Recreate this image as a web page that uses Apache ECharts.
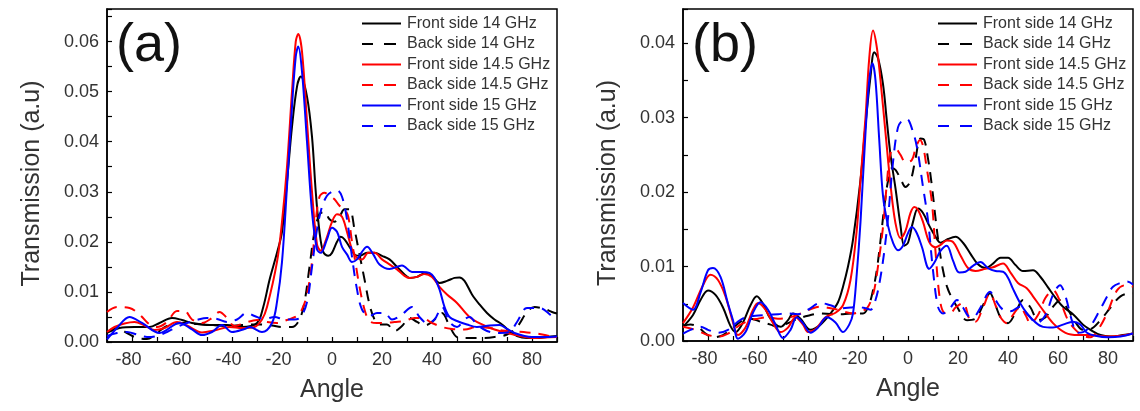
<!DOCTYPE html>
<html>
<head>
<meta charset="utf-8">
<script src="https://cdn.jsdelivr.net/npm/echarts@6/dist/echarts.min.js"></script>
<style>
html,body{margin:0;padding:0;background:#fff;}
#chart{width:1140px;height:411px;}
</style>
</head>
<body>
<div id="chart"></div>
<script>
// ---------- Data (angle in degrees, transmission in a.u.) ----------
const seriesNames = ['Front side 14 GHz','Back side 14 GHz','Front side 14.5 GHz','Back side 14.5 GHz','Front side 15 GHz','Back side 15 GHz'];
const panelLabels = ['(a)','(b)'];
const xTickLabels = [-80,-60,-40,-20,0,20,40,60,80];

// Panel (a)
const a_front14 = [[-90,0.0018],[-85,0.0028],[-79,0.003],[-73,0.003],[-69,0.0038],[-64,0.0048],[-60,0.0044],[-56,0.0038],[-49,0.0034],[-42,0.0034],[-36,0.003],[-30,0.0038],[-27.5,0.007],[-25,0.0124],[-22,0.0178],[-20,0.022],[-18,0.032],[-16,0.043],[-14,0.051],[-12.5,0.053],[-10,0.049],[-8,0.041],[-6.5,0.030],[-5,0.022],[-3.5,0.018],[-1.5,0.0172],[0,0.0178],[2,0.02],[3.5,0.021],[5,0.0205],[7,0.019],[9,0.0175],[11,0.0172],[14,0.0178],[17,0.0178],[20,0.0172],[23,0.0165],[26,0.015],[29,0.0135],[31,0.0128],[34,0.013],[37,0.0137],[40,0.0132],[43,0.0118],[46,0.0122],[49,0.0128],[51,0.0129],[53,0.0122],[56,0.0095],[59,0.0075],[62,0.0058],[65,0.0045],[68,0.0035],[71,0.0022],[74,0.0012],[78,0.0008],[82,0.0008],[86,0.001],[90,0.0012]];
const a_back14 = [[-90,0.002],[-86,0.0028],[-82,0.0018],[-78,0.0008],[-74,0.0006],[-70,0.0018],[-66,0.0032],[-60,0.0038],[-54,0.0036],[-48,0.0034],[-42,0.0032],[-36,0.0034],[-30,0.0035],[-24,0.0033],[-20,0.003],[-16,0.003],[-13,0.0045],[-11,0.008],[-9,0.015],[-7,0.022],[-5,0.0255],[-3,0.026],[-1,0.0245],[1,0.024],[3,0.025],[5,0.0265],[7,0.0265],[9,0.0225],[11,0.0175],[13,0.0125],[15,0.0075],[17,0.0045],[19,0.0035],[22,0.0035],[25,0.0022],[28,0.0032],[31,0.0048],[34,0.004],[37,0.0033],[40,0.004],[44,0.0058],[47,0.0032],[50,0.001],[54,0.0008],[60,0.0008],[65,0.001],[70,0.0015],[74,0.003],[78,0.006],[81,0.007],[85,0.0066],[88,0.006],[90,0.0057]];
const a_front145 = [[-90,0.002],[-87,0.003],[-83,0.0037],[-79,0.004],[-75,0.0033],[-71,0.0024],[-67,0.0028],[-62,0.004],[-58,0.0033],[-52,0.0019],[-47,0.0023],[-41,0.003],[-36,0.0028],[-31,0.003],[-28,0.0045],[-26,0.007],[-22,0.016],[-20,0.024],[-18,0.035],[-16,0.05],[-14.5,0.06],[-13.5,0.0615],[-12,0.058],[-10,0.044],[-8,0.03],[-6,0.0195],[-4.5,0.0182],[-2,0.021],[0,0.024],[2,0.0255],[4,0.025],[6,0.022],[8,0.0185],[10,0.0168],[12,0.0165],[14.5,0.0178],[17,0.0178],[20,0.0165],[23,0.0155],[26,0.0145],[29,0.0132],[31,0.0128],[34,0.013],[37,0.0136],[40,0.013],[43,0.011],[46,0.0095],[50,0.0078],[55,0.005],[60,0.0035],[65,0.0025],[70,0.0018],[75,0.0012],[80,0.0008],[85,0.0009],[90,0.001]];
const a_back145 = [[-90,0.006],[-86,0.007],[-81,0.0068],[-77,0.0055],[-73,0.0035],[-70,0.003],[-66,0.004],[-62,0.0062],[-59,0.0062],[-56,0.0045],[-52,0.0038],[-48,0.0048],[-45,0.006],[-42,0.0048],[-39,0.0032],[-35,0.0038],[-30,0.0044],[-26,0.004],[-22,0.0038],[-18,0.0044],[-14,0.0052],[-12,0.0065],[-10,0.0095],[-8,0.016],[-6.5,0.024],[-5,0.029],[-3,0.0298],[-1,0.0292],[1,0.0285],[3,0.0272],[5,0.0265],[6.5,0.025],[8,0.02],[9.5,0.0155],[11,0.011],[13,0.0065],[15,0.0042],[18,0.0038],[21,0.0038],[25,0.004],[29,0.0042],[33,0.0048],[36,0.0048],[40,0.0038],[44,0.003],[48,0.0026],[53,0.0025],[58,0.003],[63,0.0028],[68,0.0023],[73,0.0021],[78,0.0019],[83,0.0016],[88,0.0011],[90,0.001]];
const a_front15 = [[-90,0.0005],[-86,0.0028],[-81,0.005],[-76,0.0038],[-69,0.0018],[-61,0.0038],[-56,0.0025],[-52,0.0014],[-48,0.002],[-44,0.0034],[-40,0.002],[-35,0.0026],[-33,0.003],[-28,0.002],[-24,0.0038],[-22,0.008],[-20,0.016],[-18,0.031],[-16,0.047],[-14.5,0.057],[-13.5,0.059],[-12,0.054],[-10,0.04],[-8,0.026],[-6,0.0185],[-4.5,0.0178],[-2,0.0205],[0,0.0228],[2,0.022],[4,0.019],[6,0.0175],[8,0.016],[10,0.0165],[12,0.018],[14,0.019],[16.5,0.0175],[19,0.0155],[23,0.0146],[28,0.0153],[32,0.014],[36,0.014],[39,0.0138],[41,0.0128],[43,0.0105],[45,0.007],[47,0.005],[50,0.0042],[54,0.0035],[58,0.003],[63,0.0033],[67,0.0034],[70,0.0026],[73,0.0018],[77,0.0012],[80,0.001],[85,0.001],[90,0.0011]];
const a_back15 = [[-90,0.0012],[-86,0.0018],[-82,0.002],[-78,0.0015],[-74,0.001],[-70,0.0012],[-66,0.002],[-62,0.003],[-58,0.0038],[-54,0.0044],[-50,0.0048],[-46,0.0046],[-42,0.004],[-38,0.0045],[-34,0.0058],[-31,0.0052],[-27,0.0046],[-23,0.005],[-19,0.0045],[-15,0.0045],[-12.5,0.005],[-10,0.008],[-8,0.015],[-6,0.0225],[-4,0.027],[-2,0.0292],[0,0.03],[2,0.0303],[4,0.029],[6,0.0245],[8,0.017],[10,0.0105],[12,0.0065],[15,0.0052],[18,0.0058],[21,0.0058],[24,0.0045],[28,0.0055],[32,0.007],[35,0.005],[38,0.0038],[41,0.0045],[44,0.007],[47,0.004],[50,0.003],[53,0.0045],[55,0.005],[58,0.0035],[62,0.0022],[67,0.0018],[71,0.002],[74,0.004],[78,0.0068],[83,0.0068],[88,0.0052],[90,0.0048]];

// Panel (b)
const b_front14 = [[-90,0.0019],[-86,0.0035],[-83,0.0055],[-80,0.0068],[-77,0.0062],[-74,0.0045],[-71,0.002],[-69,0.0012],[-66,0.0025],[-63,0.0048],[-60.5,0.006],[-58,0.005],[-55,0.003],[-51,0.0019],[-48,0.0028],[-46,0.0037],[-43,0.003],[-39,0.0015],[-35,0.0022],[-31,0.0037],[-28,0.0052],[-26,0.0073],[-24,0.01],[-22,0.0136],[-19,0.0216],[-17,0.029],[-15,0.0355],[-13.5,0.0388],[-12,0.038],[-10,0.0345],[-8.5,0.0297],[-7,0.025],[-5,0.0205],[-3,0.0155],[-1.5,0.0128],[0,0.0132],[2,0.016],[4,0.0178],[6,0.0172],[8.5,0.0155],[11,0.014],[13,0.0132],[16,0.0137],[19,0.014],[22,0.0132],[25,0.0117],[28,0.0103],[31,0.0098],[34,0.0104],[37,0.0112],[40,0.0112],[43,0.0102],[46,0.0094],[50,0.0095],[53,0.0086],[56,0.0072],[59,0.0058],[62,0.0046],[66,0.0036],[70,0.0022],[73,0.0015],[77,0.0008],[81,0.0006],[86,0.0008],[90,0.001]];
const b_back14 = [[-90,0.002],[-87,0.0022],[-84,0.0019],[-81,0.001],[-78,0.0005],[-74,0.0008],[-70,0.0018],[-66,0.0028],[-63,0.003],[-59,0.0026],[-55,0.0022],[-52,0.0019],[-48,0.0024],[-44,0.003],[-40,0.0034],[-35,0.0037],[-30,0.0036],[-26,0.0036],[-22,0.0037],[-18,0.0037],[-15.5,0.005],[-14,0.0068],[-12.5,0.0095],[-11,0.0135],[-9.5,0.018],[-8,0.0215],[-6.5,0.0232],[-5,0.023],[-3,0.0218],[-1,0.0207],[1,0.0215],[3,0.0245],[5,0.0272],[6.5,0.027],[8,0.0245],[9.5,0.021],[11,0.0165],[12.5,0.0125],[14,0.0095],[15.6,0.0073],[17.5,0.0058],[19.6,0.0046],[23.6,0.0028],[27,0.003],[30,0.0048],[32.8,0.0064],[35,0.0048],[37,0.0032],[40,0.0024],[43,0.0038],[46,0.0055],[49,0.0045],[52,0.0028],[55,0.0032],[58,0.0046],[61,0.0055],[64,0.0042],[67,0.0025],[70,0.0015],[73,0.0016],[77,0.0028],[81,0.0045],[85,0.006],[89,0.0064],[90,0.0064]];
const b_front145 = [[-90,0.0024],[-86,0.0045],[-82,0.0075],[-79,0.0089],[-76,0.0082],[-73,0.006],[-70,0.0025],[-68,0.0008],[-65,0.0018],[-62,0.0042],[-60,0.0051],[-57,0.0042],[-54,0.0024],[-51,0.0012],[-48,0.0018],[-45,0.0032],[-42,0.0022],[-40,0.0012],[-37,0.0016],[-33,0.0032],[-29,0.0038],[-26,0.0048],[-23,0.0082],[-20.5,0.0149],[-19,0.0216],[-17,0.03],[-15.5,0.038],[-14,0.0417],[-12.5,0.0395],[-11,0.035],[-9,0.028],[-7,0.021],[-5,0.0158],[-3,0.0138],[-1,0.0148],[1,0.0172],[2.5,0.018],[4,0.0176],[6,0.016],[8.5,0.0133],[11,0.0126],[13,0.0129],[15.5,0.0135],[18,0.0133],[21,0.0115],[24,0.0098],[27,0.0094],[31,0.0097],[34,0.0099],[38,0.0104],[41,0.0092],[44,0.0078],[47.5,0.0071],[50,0.006],[53,0.0046],[58,0.0024],[63,0.0011],[68,0.0008],[72,0.0008],[80,0.0006],[85,0.0007],[90,0.001]];
const b_back145 = [[-90,0.0019],[-86,0.0016],[-83,0.0012],[-80,0.0008],[-76,0.0006],[-72,0.001],[-67,0.0022],[-63,0.0028],[-60,0.003],[-56,0.0032],[-52,0.003],[-47,0.0032],[-42,0.0038],[-38,0.0044],[-35,0.0046],[-31,0.0044],[-28,0.0042],[-25,0.0039],[-22,0.0037],[-19,0.004],[-16.4,0.0044],[-14,0.0062],[-12.4,0.0091],[-10,0.0153],[-8.5,0.021],[-7,0.0252],[-5,0.0258],[-3,0.025],[-1,0.024],[1.5,0.0243],[3,0.0258],[4.8,0.027],[6,0.0262],[7.6,0.023],[9.6,0.0185],[11,0.012],[12.8,0.0055],[14.5,0.0038],[16.8,0.0037],[19,0.0045],[22,0.0051],[24.8,0.0028],[27,0.0026],[30,0.0045],[32.8,0.0064],[35,0.0048],[37,0.0032],[39.6,0.0024],[42,0.0035],[44.8,0.0046],[47,0.0035],[49,0.0024],[52,0.0035],[55,0.0058],[58,0.0068],[61,0.0052],[64,0.0028],[67,0.0015],[70,0.0007],[73,0.0005],[76,0.0015],[79.6,0.0037],[83.6,0.0068],[87,0.0075],[90,0.0073]];
const b_front15 = [[-90,0.0051],[-86,0.0042],[-83,0.0065],[-80,0.0095],[-78,0.0098],[-75,0.0086],[-72,0.005],[-70,0.0028],[-68,0.0003],[-65,0.0012],[-62,0.0038],[-59,0.0052],[-56,0.0042],[-53,0.0022],[-50,0.0004],[-47,0.0015],[-44.5,0.0032],[-42,0.0024],[-39,0.0011],[-36,0.0018],[-32.5,0.0032],[-29,0.0025],[-26,0.0012],[-23.5,0.0022],[-22,0.0037],[-20.5,0.009],[-19,0.016],[-17,0.028],[-15.5,0.035],[-14.2,0.0373],[-13,0.035],[-11.5,0.027],[-10,0.0195],[-8,0.0155],[-6,0.0132],[-4,0.0122],[-2,0.0128],[0,0.0145],[1.6,0.0153],[3.5,0.0145],[5.6,0.0126],[8.5,0.0097],[10.5,0.0105],[13,0.0121],[15.5,0.0128],[18,0.0108],[20.5,0.0092],[23,0.0093],[26,0.0101],[29,0.0106],[32,0.0098],[35,0.0094],[38,0.0093],[40,0.0085],[42,0.007],[45,0.005],[47.6,0.0037],[51,0.0025],[54,0.0019],[58,0.0018],[62,0.0022],[66,0.0026],[69,0.0022],[71.6,0.0011],[75,0.0007],[80,0.0005],[85,0.0006],[90,0.001]];
const b_back15 = [[-90,0.001],[-87,0.0015],[-83,0.0019],[-80,0.0015],[-76,0.0011],[-72,0.0015],[-68,0.0026],[-65,0.0032],[-61,0.0034],[-56,0.0035],[-52,0.0036],[-48.4,0.0037],[-44,0.0036],[-40,0.0042],[-35,0.0051],[-31,0.0048],[-27,0.0044],[-23,0.0045],[-20.4,0.0046],[-17,0.0044],[-15,0.0042],[-13,0.0055],[-11.2,0.0082],[-9.5,0.012],[-8,0.0165],[-6,0.024],[-4,0.0287],[-2,0.0297],[-0.4,0.0298],[1.6,0.0285],[3.6,0.026],[6,0.0207],[8,0.0162],[10,0.0095],[12,0.0046],[14,0.0037],[17,0.0045],[19.6,0.0055],[22,0.0045],[24,0.0034],[26,0.0032],[29,0.0045],[32.8,0.0066],[35,0.0055],[38,0.0042],[41,0.004],[44.8,0.0046],[48,0.0035],[51.6,0.0024],[55,0.0035],[58,0.0062],[60.8,0.0075],[63,0.006],[65.5,0.0028],[67.6,0.0011],[70,0.0012],[73,0.002],[76.8,0.0042],[80,0.0062],[82,0.0073],[85,0.0078],[87.6,0.008],[90,0.0076]];

const panelData = [
  [a_front14, a_back14, a_front145, a_back145, a_front15, a_back15],
  [b_front14, b_back14, b_front145, b_back145, b_front15, b_back15]
];
const yMax = [0.0665, 0.0446];

// ---------- Styling ----------
const colors = ['#000000','#000000','#ff0000','#ff0000','#0000ff','#0000ff'];
const dashed = [false,true,false,true,false,true];
const FONT = 'Liberation Sans, Arial, sans-serif';
const TXT = '#333333';
const grids = [
  {left:107, top:9, width:450, height:333},
  {left:683, top:9, width:450, height:332}
];
const legendPos = [{left:362, top:15.5},{left:938, top:15.5}];
const labelPos = [{left:116, top:19},{left:692, top:19}];
const ICON_SOLID = 'path://M0,0H39V2H0Z M40,0V2';
const ICON_DASH = 'path://M0,0H11V2H0Z M22,0H34V2H22Z M40,0V2';

const chart = echarts.init(document.getElementById('chart'), null, {renderer:'canvas'});

const tickLabelStyle = {fontFamily:FONT, fontSize:18, color:TXT};

const option = {
  animation:false,
  backgroundColor:'#ffffff',
  title: panelLabels.map((t,i)=>({
    text:t, left:labelPos[i].left, top:labelPos[i].top, padding:0,
    textStyle:{fontFamily:FONT, fontSize:54, fontWeight:'normal', color:'#111'}
  })),
  grid: grids.map(g=>Object.assign({show:true, borderColor:'#000', borderWidth:1.5, backgroundColor:'transparent', containLabel:false}, g)),
  legend: [0,1].map(i=>({
    orient:'vertical', left:legendPos[i].left, top:legendPos[i].top, padding:0,
    itemWidth:40, itemHeight:2, itemGap:4.5, symbolKeepAspect:false,
    data: seriesNames.map((n,s)=>({name:n, icon: dashed[s] ? ICON_DASH : ICON_SOLID,
      itemStyle:{color:colors[s], borderWidth:0}})),
    textStyle:{fontFamily:FONT, fontSize:16, color:TXT},
    selectedMode:false
  })),
  xAxis: [0,1].map(i=>({
    type:'value', gridIndex:i, min:-90, max:90, interval:10,
    name:'Angle', nameLocation:'middle', nameGap:36,
    nameTextStyle:{fontFamily:FONT, fontSize:25, color:TXT},
    axisLine:{show:true, onZero:false, lineStyle:{color:'#000', width:1.5}},
    axisTick:{show:true, inside:true, length:5, lineStyle:{color:'#000', width:1.2}},
    splitLine:{show:false},
    axisLabel:Object.assign({margin:9,
      rich:{neg:Object.assign({padding:[0,7,0,0]}, tickLabelStyle)},
      formatter:(v)=>{
        const r=Math.round(v);
        if (r%20!==0 || Math.abs(r)>=90) return '';
        return r<0 ? '{neg|'+r+'}' : String(r);
      }}, tickLabelStyle)
  })),
  yAxis: [0,1].map(i=>({
    type:'value', gridIndex:i, min:0, max:yMax[i], interval:0.005,
    name:'Transmission (a.u)', nameLocation:'middle', nameGap:62,
    nameTextStyle:{fontFamily:FONT, fontSize:25, color:TXT, padding:[0,16,0,0]},
    axisLine:{show:true, onZero:false, lineStyle:{color:'#000', width:1.5}},
    axisTick:{show:true, inside:true, length:5, lineStyle:{color:'#000', width:1.2}},
    splitLine:{show:false},
    axisLabel:Object.assign({margin:8,
      formatter:(v)=>{ const k=Math.round(v*1000); return (k%10===0 && v<yMax[i]-1e-6) ? (k/1000).toFixed(2) : ''; }}, tickLabelStyle)
  })),
  series: []
};

[0,1].forEach(p=>{
  panelData[p].forEach((d,s)=>{
    option.series.push({
      type:'line', name:seriesNames[s], xAxisIndex:p, yAxisIndex:p,
      data:d, smooth:0.35, symbol:'none', showSymbol:false,
      lineStyle:{color:colors[s], width:2, type: dashed[s] ? [11,8] : 'solid'},
      itemStyle:{color:colors[s]},
      clip:true
    });
  });
});

chart.setOption(option);
</script>
</body>
</html>
